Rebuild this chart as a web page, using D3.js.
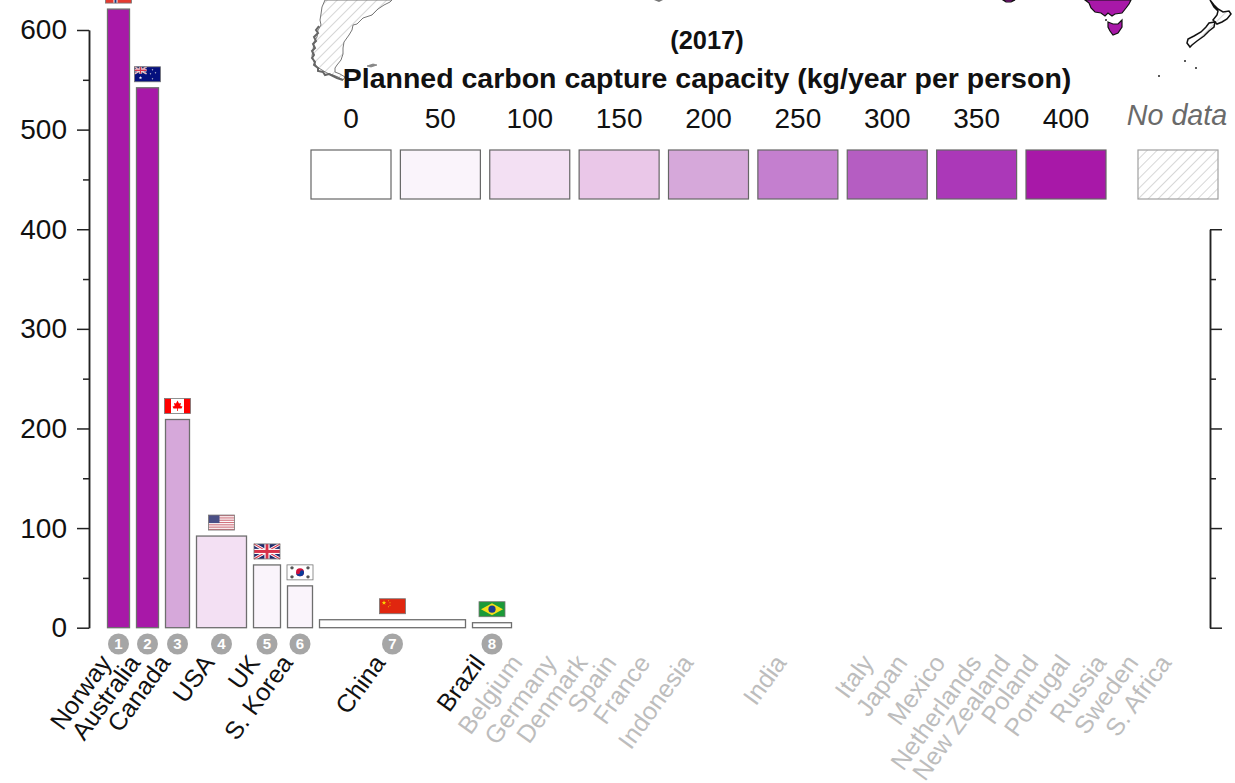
<!DOCTYPE html>
<html><head><meta charset="utf-8">
<script src="https://cdnjs.cloudflare.com/ajax/libs/d3/7.8.5/d3.min.js"></script>
<style>html,body{margin:0;padding:0;background:#fff}svg{display:block}text{font-family:"Liberation Sans",Arial,sans-serif}</style>
</head><body><svg id="c" width="1235" height="783"></svg>
<script>
// ---- data ----
const countries = ["Norway","Australia","Canada","USA","UK","S. Korea","China","Brazil","Belgium","Germany","Denmark","Spain","France","Indonesia","India","Italy","Japan","Mexico","Netherlands","New Zealand","Poland","Portugal","Russia","Sweden","S. Africa"];
const capacity  = [621,542,209,92,63,42,8,5,0,0,0,0,0,0,0,0,0,0,0,0,0,0,0,0,0];
const barWidths = [22,22,24,50,27,25,146,39,22,32,16,28,26,46,126,34,20,42,16,28,14,36,22,28,24];
const flags = ["no","au","ca","us","uk","kr","cn","br"];
const legendValues = [0,50,100,150,200,250,300,350,400];
const legendColors = ["#ffffff","#faf4fb","#f3e0f3","#eac7e8","#d6a8da","#c47fcf","#b55dc2","#ab38b8","#a818a8"];
const majorTicks = [0,100,200,300,400,500,600];
const minorTicks = [50,150,250,350,450,550];
const rightMajor = [0,100,200,300,400];
const rightMinor = [50,150,250,350];
const titleYear = "(2017)";
const titleMain = "Planned carbon capture capacity (kg/year per person)";
// map fragments
const southAmerica = [[325,0],[322,7],[321,14],[320,20],[321,25],[318,30],[317,37],[314,42],[313,50],[312,56],[314,62],[317,67],[322,70],[327,73],[333,75],[338,77],[343,80],[345,77],[340,74],[335,72],[335,68],[337,65],[341,60],[343,54],[343,48],[344,42],[349,35],[352,30],[353,25],[357,24],[363,18],[372,15],[378,9],[384,5],[390,2],[392,0]];
const chileFringe = [[319,26],[316,30],[318,33],[314,37],[316,41],[313,44],[315,48],[312,51],[314,55],[312,58],[315,62],[314,65],[318,68],[318,71],[323,72],[325,75],[329,74],[333,76],[337,78],[343,80]];
const falklands = [[367,66],[373,64],[377,65],[371,67]];
const australia = [[1085,0],[1089,3],[1091,8],[1095,12],[1101,13],[1105,16],[1108,13],[1112,16],[1115,14],[1122,13],[1126,8],[1129,4],[1131,0]];
const tasmania = [[1108,22],[1113,24],[1118,24],[1122,20],[1122,27],[1118,33],[1113,35],[1110,31],[1108,27]];
const nzSouth = [[1187,43],[1188,39],[1194,36],[1201,32],[1206,27],[1209,23],[1215,22],[1214,27],[1209,31],[1204,36],[1197,41],[1192,45],[1190,47]];
const nzNorth = [[1210,0],[1214,5],[1218,9],[1223,12],[1229,11],[1231,14],[1227,19],[1222,22],[1217,24],[1213,20],[1217,15],[1218,11],[1214,7]];
const otherPurple = [[1003,0],[1015,0],[1011,2],[1006,2]];
const otherGrey = [[654,0],[663,0],[659,2]];
const islandDots = [[1185,61],[1196,68],[1159,76],[1106,20]];

const svg = d3.select("#c");
const defs = svg.append("defs");
const hatch = defs.append("pattern").attr("id","hatch").attr("patternUnits","userSpaceOnUse")
  .attr("width",7).attr("height",7).attr("patternTransform","rotate(45)");
hatch.append("line").attr("x1",0).attr("y1",0).attr("x2",0).attr("y2",7).attr("stroke","#bcbcbc").attr("stroke-width",1.2);

// ---- scales ----
const gapUnits = 7;
const edges = Array.from(d3.cumsum(barWidths.map(w => w + gapUnits)));
const total = edges[edges.length-1] - gapUnits;
const x = d3.scaleLinear().domain([0,total]).range([107.5,107.5+total]);
const y = d3.scaleLinear().domain([0,600]).range([627.7,30]);
const colorOf = d3.scaleThreshold().domain([25,75,125,175,225,275,325,375]).range(legendColors);
const barLeft = i => edges[i] - barWidths[i] - gapUnits;
const center = i => x(barLeft(i) + barWidths[i]/2);

// ---- map fragments ----
const line = d3.line();
const closed = p => line(p) + "Z";
const mapG = svg.append("g");
mapG.append("path").attr("d",closed(southAmerica)).attr("fill","url(#hatch)").attr("stroke","#777").attr("stroke-width",1);
mapG.append("path").attr("d",line(chileFringe)).attr("fill","none").attr("stroke","#666").attr("stroke-width",2);
mapG.append("path").attr("d",closed(falklands)).attr("fill","#888").attr("stroke","#777").attr("stroke-width",.7);
mapG.append("path").attr("d",closed(otherGrey)).attr("fill","#777");
[otherPurple,australia,tasmania].forEach(p => mapG.append("path").attr("d",closed(p)).attr("fill","#a818a8").attr("stroke","#111").attr("stroke-width",1.2));
[nzSouth,nzNorth].forEach(p => mapG.append("path").attr("d",closed(p)).attr("fill","url(#hatch)").attr("stroke","#111").attr("stroke-width",1.5));
mapG.selectAll("circle").data(islandDots).join("circle").attr("cx",d=>d[0]).attr("cy",d=>d[1]).attr("r",1).attr("fill","#222");

// ---- axes ----
function drawAxis(axis, tx, labels){
  const g = svg.append("g").attr("transform",`translate(${tx},0)`).call(axis);
  g.selectAll("path,line").attr("stroke","#222").attr("stroke-width",1.5);
  g.select(".domain").attr("fill","none");
  if(labels) g.selectAll("text").attr("font-size",28).attr("fill","#111").attr("font-family","Liberation Sans, Arial, sans-serif");
  return g;
}
drawAxis(d3.axisLeft(y).tickValues(minorTicks).tickSize(6).tickSizeOuter(0).tickFormat(""),89,false);
drawAxis(d3.axisLeft(y).tickValues(majorTicks).tickSize(12).tickSizeOuter(0).tickPadding(10),89,true);
const yR = d3.scaleLinear().domain([0,400]).range([y(0),y(400)]);
drawAxis(d3.axisRight(yR).tickValues(rightMinor).tickSize(6).tickSizeOuter(0).tickFormat(""),1210,false);
drawAxis(d3.axisRight(yR).tickValues(rightMajor).tickSize(12).tickSizeOuter(0).tickFormat(""),1210,false);

// ---- bars ----
const shown = d3.range(countries.length).filter(i => capacity[i] > 0);
svg.append("g").selectAll("rect").data(shown).join("rect")
  .attr("x",i=>x(barLeft(i))).attr("y",i=>y(capacity[i]))
  .attr("width",i=>x(barWidths[i])-x(0)).attr("height",i=>y(0)-y(capacity[i]))
  .attr("fill",i=>colorOf(capacity[i])).attr("stroke","#6e6e6e").attr("stroke-width",1.3);

// ---- flags (local 26 x 15 box) ----
function star(g,cx,cy,r,fill){
  const pts = d3.range(10).map(k=>{const a=-Math.PI/2+k*Math.PI/5,rr=k%2?r*.42:r;return [cx+rr*Math.cos(a),cy+rr*Math.sin(a)];});
  g.append("path").attr("d",closed(pts)).attr("fill",fill);
}
function rect(g,a,b,w,h,f){g.append("rect").attr("x",a).attr("y",b).attr("width",w).attr("height",h).attr("fill",f);}
function union(g,w,h){
  rect(g,0,0,w,h,"#1f2a6d");
  g.append("path").attr("d",`M0 0L${w} ${h}M${w} 0L0 ${h}`).attr("stroke","#fff").attr("stroke-width",h*.2);
  g.append("path").attr("d",`M0 0L${w} ${h}M${w} 0L0 ${h}`).attr("stroke","#d8324a").attr("stroke-width",h*.07);
  rect(g,w/2-w*.1,0,w*.2,h,"#fff");rect(g,0,h/2-h*.17,w,h*.34,"#fff");
  rect(g,w/2-w*.055,0,w*.11,h,"#d8324a");rect(g,0,h/2-h*.1,w,h*.2,"#d8324a");
}
const drawFlag = {
  no(g){rect(g,0,0,26,15,"#e53a30");rect(g,8,0,4,15,"#fff");rect(g,0,5.5,26,4,"#fff");rect(g,9,0,2,15,"#1f3a7a");rect(g,0,6.5,26,2,"#1f3a7a");},
  au(g){rect(g,0,0,26,15,"#05107e");union(g.append("g"),12,7);star(g,6,11,1.8,"#fff");[[18,3],[21,6],[18,12],[16,7]].forEach(p=>star(g,p[0],p[1],1,"#ddd"));},
  ca(g){rect(g,0,0,26,15,"#fff");rect(g,0,0,6.5,15,"#f00");rect(g,19.5,0,6.5,15,"#f00");
    g.append("path").attr("d","M13 2L14.5 5L16.5 4.5L15.8 7.5L18 8L17 10L13.4 10L13.4 12.5L12.6 12.5L12.6 10L9 10L8 8L10.2 7.5L9.5 4.5L11.5 5Z").attr("fill","#f00");},
  us(g){rect(g,0,0,26,15,"#fff");d3.range(0,7).forEach(k=>rect(g,0,k*2.3,26,1.15,"#d0737e"));rect(g,0,0,11,8,"#4a4f86");},
  uk(g){union(g,26,15);},
  kr(g){rect(g,0,0,26,15,"#fff");g.append("circle").attr("cx",13).attr("cy",7.5).attr("r",4).attr("fill","#d0103a");
    g.append("path").attr("d","M9 7.5A4 4 0 0 0 17 7.5A2 2 0 0 0 13 7.5A2 2 0 0 1 9 7.5Z").attr("fill","#0a3a9a");
    [[5,3],[21,3],[5,12],[21,12]].forEach(p=>g.append("circle").attr("cx",p[0]).attr("cy",p[1]).attr("r",1.7).attr("fill","#555"));},
  cn(g){rect(g,0,0,26,15,"#e0260f");star(g,4.5,4,2.4,"#f8d800");[[9,2],[10.5,4],[10.5,6.5],[9,8]].forEach(p=>star(g,p[0],p[1],.8,"#f8d800"));},
  br(g){rect(g,0,0,26,15,"#1b9a38");g.append("path").attr("d","M13 1.5L24 7.5L13 13.5L2 7.5Z").attr("fill","#f5de1a");g.append("circle").attr("cx",13).attr("cy",7.5).attr("r",3.6).attr("fill","#1c3a8e");}
};
shown.forEach((i,k)=>{
  const g = svg.append("g").attr("transform",`translate(${center(i)-13},${y(capacity[i])-21})`);
  drawFlag[flags[k]](g);
  g.append("rect").attr("width",26).attr("height",15).attr("fill","none").attr("stroke","#777").attr("stroke-width",.8);
});

// ---- rank badges ----
const badges = svg.append("g").selectAll("g").data(shown).join("g").attr("transform",i=>`translate(${center(i)},644)`);
badges.append("circle").attr("r",10.5).attr("fill","#a6a6a6");
badges.append("text").text(i=>i+1).attr("text-anchor","middle").attr("dy","0.36em").attr("font-size",15).attr("font-weight","bold").attr("fill","#fff");

// ---- country labels ----
svg.append("g").selectAll("text").data(countries).join("text")
  .text(d=>d).attr("text-anchor","end").attr("font-size",25)
  .attr("fill",(d,i)=>capacity[i]>0?"#111":"#bdbdbd")
  .attr("transform",(d,i)=>`translate(${center(i)-6},663) rotate(-54)`);

// ---- titles ----
svg.append("text").text(titleYear).attr("x",707).attr("y",49).attr("text-anchor","middle").attr("font-size",25.4).attr("font-weight","bold").attr("fill","#111");
svg.append("text").text(titleMain).attr("x",707).attr("y",88).attr("text-anchor","middle").attr("font-size",28.5).attr("font-weight","bold").attr("fill","#111");

// ---- legend ----
const lx = d3.scalePoint().domain(legendValues).range([351,1066]);
const lg = svg.append("g");
lg.selectAll("rect").data(legendValues).join("rect")
  .attr("x",d=>lx(d)-40).attr("y",150).attr("width",80).attr("height",49)
  .attr("fill",(d,i)=>legendColors[i]).attr("stroke","#666").attr("stroke-width",1.2);
lg.selectAll("text").data(legendValues).join("text")
  .text(d=>d).attr("x",d=>lx(d)).attr("y",128).attr("text-anchor","middle").attr("font-size",28).attr("fill","#111");
svg.append("rect").attr("x",1138).attr("y",150).attr("width",80).attr("height",49).attr("fill","url(#hatch)").attr("stroke","#a0a0a0").attr("stroke-width",1.2);
svg.append("text").text("No data").attr("x",1177).attr("y",125).attr("text-anchor","middle").attr("font-size",28.7).attr("font-style","italic").attr("fill","#6a6a6a");
</script></body></html>
